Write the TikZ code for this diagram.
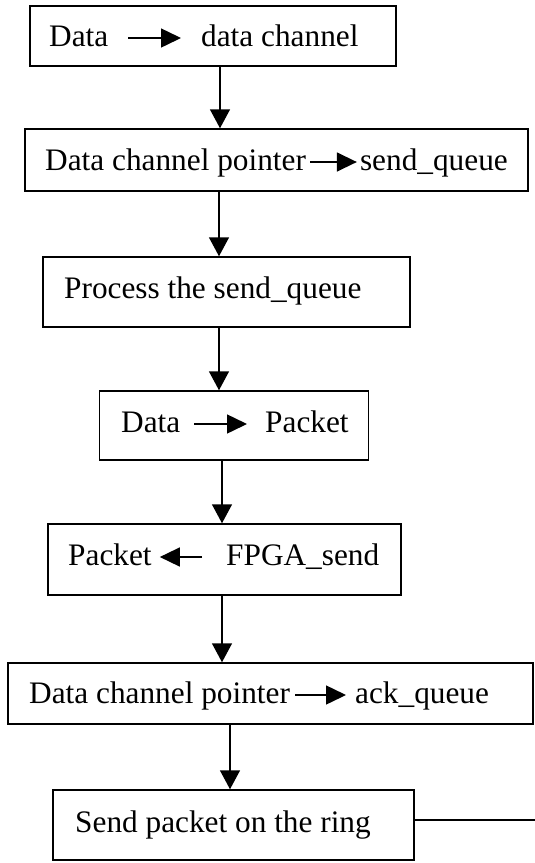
\documentclass[tikz,border=0pt]{standalone}
\usepackage{fontspec}
\setmainfont{Liberation Serif}
\usetikzlibrary{arrows.meta}
\begin{document}
\begin{tikzpicture}[x=1pt,y=-1pt,
  box/.style={draw, line width=1.5pt, rectangle, inner sep=0pt},
  txt/.style={inner sep=0pt, font=\fontsize{31.3}{36}\selectfont},
  flow/.style={line width=1.5pt, -{Triangle[length=19pt,width=20pt]}},
  inarr/.style={line width=1.5pt, -{Triangle[length=20pt,width=19pt]}}]
\useasboundingbox (0,0) rectangle (535,863);
\fill[white] (0,0) rectangle (535,863);
% boxes
\node[box, minimum width=366pt, minimum height=60pt] (b1) at (213,36) {};
\node[box, minimum width=503pt, minimum height=62pt] (b2) at (276.5,160) {};
\node[box, minimum width=367pt, minimum height=70pt] (b3) at (226.5,292) {};
\node[box, minimum width=269pt, minimum height=69pt] (b4) at (234,425.5) {};
\node[box, minimum width=353pt, minimum height=71pt] (b5) at (224.5,559.5) {};
\node[box, minimum width=525pt, minimum height=61pt] (b6) at (270.5,693.5) {};
\node[box, minimum width=361pt, minimum height=70pt] (b7) at (233.5,825) {};
% texts
\node[txt, anchor=base west] (t1a) at (49,46) {Data};
\node[txt, anchor=base west] (t1b) at (201,46) {data channel};
\node[txt, anchor=base west] (t2a) at (45,170) {Data channel pointer};
\node[txt, anchor=base east] (t2b) at (508,170) {send\_queue};
\node[txt, anchor=base west] (t3) at (64,298) {Process the send\_queue};
\node[txt, anchor=base west] (t4a) at (121,432) {Data};
\node[txt, anchor=base west] (t4b) at (265,432) {Packet};
\node[txt, anchor=base west] (t5a) at (68,565) {Packet};
\node[txt, anchor=base west] (t5b) at (226,565) {FPGA\_send};
\node[txt, anchor=base west] (t6a) at (29,703) {Data channel pointer};
\node[txt, anchor=base west] (t6b) at (355,703) {ack\_queue};
\node[txt, anchor=base west] (t7) at (75,832) {Send packet on the ring};
% inline arrows
\draw[inarr, shorten <=20pt, shorten >=20pt] ([yshift=8pt]t1a.base east) -- ([yshift=8pt]t1b.base west);
\draw[inarr, shorten <=4pt, shorten >=3pt] ([yshift=8pt]t2a.base east) -- ([yshift=8pt]t2b.base west);
\draw[inarr, shorten <=14pt, shorten >=18pt] ([yshift=8pt]t4a.base east) -- ([yshift=8pt]t4b.base west);
\draw[inarr, shorten <=24pt, shorten >=8pt] ([yshift=8pt]t5b.base west) -- ([yshift=8pt]t5a.base east);
\draw[inarr, shorten <=5pt, shorten >=9pt] ([yshift=8pt]t6a.base east) -- ([yshift=8pt]t6b.base west);
% flow connectors
\coordinate (x1) at (220,0);
\coordinate (x2) at (219,0);
\coordinate (x3) at (219,0);
\coordinate (x4) at (222,0);
\coordinate (x5) at (222,0);
\coordinate (x6) at (230,0);
\draw[flow] (b1.south -| x1) -- (b2.north -| x1);
\draw[flow] (b2.south -| x2) -- (b3.north -| x2);
\draw[flow] (b3.south -| x3) -- (b4.north -| x3);
\draw[flow] (b4.south -| x4) -- (b5.north -| x4);
\draw[flow] (b5.south -| x5) -- (b6.north -| x5);
\draw[flow] (b6.south -| x6) -- (b7.north -| x6);
\coordinate (rend) at (535,820);
\draw[line width=1.5pt] (b7.east |- rend) -- (rend);
\end{tikzpicture}
\end{document}
